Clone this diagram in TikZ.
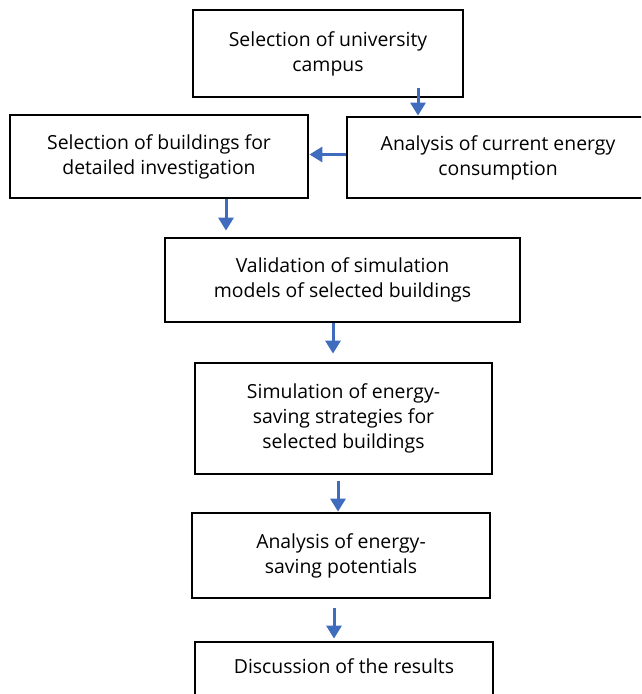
\documentclass[tikz,border=0pt]{standalone}
\usepackage{fontspec}
\setmainfont{Open Sans}
\usetikzlibrary{arrows.meta}
\definecolor{arrowblue}{RGB}{64,108,190}
\begin{document}
\begin{tikzpicture}[x=1pt,y=-1pt,
  box/.style={draw=black, line width=2.8pt, align=center, inner sep=0pt,
              font=\fontsize{19.4}{25}\selectfont},
  flow/.style={draw=arrowblue, line width=3pt, -{Triangle[width=15pt,length=13pt]}}]
\fill[white] (0,0) rectangle (641,694);
\useasboundingbox (0,0) rectangle (641,694);
\clip (0,0) rectangle (641,694);

\node[box, minimum width=270pt, minimum height=87pt] (b1) at (328,53.5)
  {Selection of university\\campus};
\node[box, minimum width=298pt, minimum height=83pt] (b2) at (159,156.5)
  {Selection of buildings for\\detailed investigation};
\node[box, minimum width=302pt, minimum height=81pt] (b3) at (498,157.5)
  {Analysis of current energy\\consumption};
\node[box, minimum width=355pt, minimum height=84pt] (b4) at (342.5,280)
  {Validation of simulation\\models of selected buildings};
\node[box, minimum width=297pt, minimum height=111pt] (b5) at (343.5,418.5)
  {Simulation of energy-\\saving strategies for\\selected buildings};
\node[box, minimum width=298pt, minimum height=85pt] (b6) at (341,555.5)
  {Analysis of energy-\\saving potentials};
\node[box, minimum width=298pt, minimum height=60pt, text height=10pt, text depth=8pt] (b7) at (344,672)
  {Discussion of the results};

\coordinate (a1s) at (418,88);
\coordinate (x3) at (226,0);
\coordinate (x4) at (333,0);
\coordinate (x5) at (338,0);
\coordinate (x6) at (334,0);

\draw[flow] (a1s) -- (a1s |- b3.north);
\draw[flow] ([yshift=3pt]b3.west) -- ([yshift=3pt]b3.west -| b2.east);
\draw[flow, shorten >=6pt] (b2.south -| x3) -- (b4.north -| x3);
\draw[flow, shorten >=8pt] (b4.south -| x4) -- (b5.north -| x4);
\draw[flow, shorten <=6pt] (b5.south -| x5) -- (b6.north -| x5);
\draw[flow, shorten <=9pt, shorten >=2pt] (b6.south -| x6) -- (b7.north -| x6);
\end{tikzpicture}
\end{document}
